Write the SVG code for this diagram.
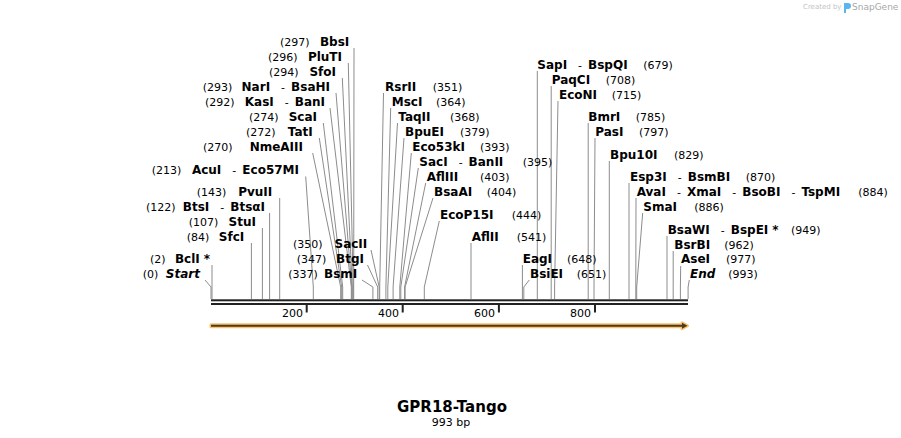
<svg xmlns="http://www.w3.org/2000/svg" width="901" height="438" viewBox="0 0 901 438">
<style>
text{font-family:"DejaVu Sans",Verdana,sans-serif;fill:#000}
.b{font-size:12px;font-weight:bold}
.n{font-size:11px;font-weight:normal}
.bi{font-size:12px;font-weight:bold;font-style:italic}
.e{text-anchor:end}
.ln{stroke:#8c8c8c;stroke-width:1;fill:none}
.bar{fill:#222}
.tk{font-size:11px;text-anchor:end}
</style>
<rect width="901" height="438" fill="#fff"/>
<g id="watermark">
<text x="803" y="9" style="font-size:7px;fill:#c4c4c4">Created by</text>
<path d="M844 3h4a3 3 0 0 1 0 6h-2v4h-2z" fill="#5cb6ee"/>
<text x="852" y="10" style="font-size:9px;fill:#a8a8a8">SnapGene</text>
</g>
<g id="connectors" class="ln">
<path d="M354 48L353.7 287V299"/>
<path d="M348.3 63L353.2 287V299"/>
<path d="M342.3 78L352.3 287V299"/>
<path d="M336 93L351.8 287V299"/>
<path d="M330 108L351.3 287V299"/>
<path d="M323.3 123L342.7 287V299"/>
<path d="M319.3 138L341.7 287V299"/>
<path d="M312.7 153L340.7 287V299"/>
<path d="M305.7 176.5L313.3 287V299"/>
<path d="M279.7 198V299"/>
<path d="M269.6 213V299"/>
<path d="M262.4 228V299"/>
<path d="M251.4 243V299"/>
<path d="M212 265V299"/>
<path d="M205 280L211 287V299"/>
<path d="M371 250L379.2 287V299"/>
<path d="M367.5 265L377.7 287V299"/>
<path d="M362 280L372.9 287V299"/>
<path d="M383.5 93L379.7 287V299"/>
<path d="M390.7 108L385.9 287V299"/>
<path d="M397.5 123L387.8 287V299"/>
<path d="M404 138L393.1 287V299"/>
<path d="M411.3 153L399.8 287V299"/>
<path d="M418.3 168L400.8 287V299"/>
<path d="M425.7 183L404.6 287V299"/>
<path d="M433 198L405.1 287V299"/>
<path d="M439.3 221L424.3 287V299"/>
<path d="M471 243V299"/>
<path d="M522.4 265V299"/>
<path d="M529.3 280L523.8 287V299"/>
<path d="M537.3 71V299"/>
<path d="M551.2 86V299"/>
<path d="M558 101L554.6 287V299"/>
<path d="M588.2 123V299"/>
<path d="M595 138L594 287V299"/>
<path d="M609.3 161V299"/>
<path d="M629 183V299"/>
<path d="M636 198L635.8 287V299"/>
<path d="M642.7 213L636.7 287V299"/>
<path d="M667 236V299"/>
<path d="M673.2 251V299"/>
<path d="M680.7 266L680.4 287V299"/>
<path d="M689.3 280L688.1 287V299"/>
</g>
<g id="sequence">
<rect class="bar" x="211" y="299.3" width="477" height="2"/>
<rect class="bar" x="211" y="303" width="477" height="2"/>
<rect class="bar" x="305.7" y="305" width="2" height="7.5"/>
<rect class="bar" x="401.7" y="305" width="2" height="7.5"/>
<rect class="bar" x="497.9" y="305" width="2" height="7.5"/>
<rect class="bar" x="594" y="305" width="2" height="7.5"/>
<text class="tk" x="303" y="317">200</text>
<text class="tk" x="399" y="317">400</text>
<text class="tk" x="495" y="317">600</text>
<text class="tk" x="591" y="317">800</text>
</g>
<g id="feature-arrow">
<path d="M211 324.8H682V322.8L687.5 325.8L682 328.8V326.8H211Z" fill="#4a3a20" stroke="#f9c272" stroke-width="3" stroke-linejoin="round" paint-order="stroke"/>
</g>
<g id="BbsI"><text class="n" x="280" y="46">(297)</text><text class="b e" x="349.3" y="46">BbsI</text></g>
<g id="PluTI"><text class="n" x="268" y="61">(296)</text><text class="b e" x="342" y="61">PluTI</text></g>
<g id="SfoI"><text class="n" x="269" y="76">(294)</text><text class="b e" x="336" y="76">SfoI</text></g>
<g id="NarI"><text class="n" x="202.7" y="91">(293)</text><text class="b e" x="330" y="91">NarI<tspan class="n" dx="11">-</tspan><tspan dx="6">BsaHI</tspan></text></g>
<g id="KasI"><text class="n" x="205" y="106">(292)</text><text class="b e" x="325" y="106">KasI<tspan class="n" dx="11">-</tspan><tspan dx="6">BanI</tspan></text></g>
<g id="ScaI"><text class="n" x="249" y="121">(274)</text><text class="b e" x="317" y="121">ScaI</text></g>
<g id="TatI"><text class="n" x="246" y="136">(272)</text><text class="b e" x="312.7" y="136">TatI</text></g>
<g id="NmeAIII"><text class="n" x="203" y="151">(270)</text><text class="b e" x="303" y="151">NmeAIII</text></g>
<g id="AcuI"><text class="n" x="151.7" y="174">(213)</text><text class="b e" x="299" y="174">AcuI<tspan class="n" dx="11">-</tspan><tspan dx="6">Eco57MI</tspan></text></g>
<g id="PvuII"><text class="n" x="196.7" y="196">(143)</text><text class="b e" x="272.3" y="196">PvuII</text></g>
<g id="BtsI"><text class="n" x="146" y="211">(122)</text><text class="b e" x="265" y="211">BtsI<tspan class="n" dx="11">-</tspan><tspan dx="6">BtsαI</tspan></text></g>
<g id="StuI"><text class="n" x="188.7" y="226">(107)</text><text class="b e" x="256" y="226">StuI</text></g>
<g id="SfcI"><text class="n" x="186.7" y="241">(84)</text><text class="b e" x="244.3" y="241">SfcI</text></g>
<g id="BclI"><text class="n" x="150" y="263">(2)</text><text class="b e" x="210" y="263">BclI<tspan dx="4">*</tspan></text></g>
<g id="Start"><text class="n" x="142.7" y="278">(0)</text><text class="bi e" x="200" y="278">Start</text></g>
<g id="SacII"><text class="n" x="293" y="248">(350)</text><text class="b e" x="367.3" y="248">SacII</text></g>
<g id="BtgI"><text class="n" x="296.7" y="263">(347)</text><text class="b e" x="364" y="263">BtgI</text></g>
<g id="BsmI"><text class="n" x="288.3" y="278">(337)</text><text class="b e" x="357.3" y="278">BsmI</text></g>
<g id="RsrII"><text class="b" x="385" y="91">RsrII</text><text class="n" x="432.7" y="91">(351)</text></g>
<g id="MscI"><text class="b" x="391.7" y="106">MscI</text><text class="n" x="436" y="106">(364)</text></g>
<g id="TaqII"><text class="b" x="398.3" y="121">TaqII</text><text class="n" x="450" y="121">(368)</text></g>
<g id="BpuEI"><text class="b" x="405" y="136">BpuEI</text><text class="n" x="460" y="136">(379)</text></g>
<g id="Eco53kI"><text class="b" x="412.3" y="151">Eco53kI</text><text class="n" x="480" y="151">(393)</text></g>
<g id="SacI"><text class="b" x="419.3" y="166">SacI<tspan class="n" dx="11">-</tspan><tspan dx="6">BanII</tspan></text><text class="n" x="522.7" y="166">(395)</text></g>
<g id="AflIII"><text class="b" x="426.7" y="181">AflIII</text><text class="n" x="480" y="181">(403)</text></g>
<g id="BsaAI"><text class="b" x="434" y="196">BsaAI</text><text class="n" x="486.7" y="196">(404)</text></g>
<g id="EcoP15I"><text class="b" x="440" y="219">EcoP15I</text><text class="n" x="511.7" y="219">(444)</text></g>
<g id="AflII"><text class="b" x="471.7" y="241">AflII</text><text class="n" x="516.7" y="241">(541)</text></g>
<g id="EagI"><text class="b" x="522.7" y="263">EagI</text><text class="n" x="567" y="263">(648)</text></g>
<g id="BsiEI"><text class="b" x="530" y="278">BsiEI</text><text class="n" x="576.7" y="278">(651)</text></g>
<g id="SapI"><text class="b" x="537.3" y="69">SapI<tspan class="n" dx="11">-</tspan><tspan dx="6">BspQI</tspan></text><text class="n" x="643.3" y="69">(679)</text></g>
<g id="PaqCI"><text class="b" x="551.7" y="84">PaqCI</text><text class="n" x="605.7" y="84">(708)</text></g>
<g id="EcoNI"><text class="b" x="559" y="99">EcoNI</text><text class="n" x="611.7" y="99">(715)</text></g>
<g id="BmrI"><text class="b" x="588.3" y="121">BmrI</text><text class="n" x="635.7" y="121">(785)</text></g>
<g id="PasI"><text class="b" x="595.3" y="136">PasI</text><text class="n" x="639" y="136">(797)</text></g>
<g id="Bpu10I"><text class="b" x="610" y="159">Bpu10I</text><text class="n" x="674" y="159">(829)</text></g>
<g id="Esp3I"><text class="b" x="630" y="181">Esp3I<tspan class="n" dx="11">-</tspan><tspan dx="6">BsmBI</tspan></text><text class="n" x="745.7" y="181">(870)</text></g>
<g id="AvaI"><text class="b" x="636.7" y="196">AvaI<tspan class="n" dx="11">-</tspan><tspan dx="6">XmaI</tspan><tspan class="n" dx="11">-</tspan><tspan dx="6">BsoBI</tspan><tspan class="n" dx="11">-</tspan><tspan dx="6">TspMI</tspan></text><text class="n" x="858.3" y="196">(884)</text></g>
<g id="SmaI"><text class="b" x="643.3" y="211">SmaI</text><text class="n" x="694.3" y="211">(886)</text></g>
<g id="BsaWI"><text class="b" x="667.7" y="234">BsaWI<tspan class="n" dx="11">-</tspan><tspan dx="6">BspEI</tspan><tspan dx="4">*</tspan></text><text class="n" x="791" y="234">(949)</text></g>
<g id="BsrBI"><text class="b" x="674.3" y="249">BsrBI</text><text class="n" x="724.3" y="249">(962)</text></g>
<g id="AseI"><text class="b" x="681" y="263">AseI</text><text class="n" x="726" y="263">(977)</text></g>
<g id="End"><text class="bi" x="690" y="278">End</text><text class="n" x="728.3" y="278">(993)</text></g>
<g id="title">
<text x="452" y="411.5" style="font-size:15px;font-weight:bold;text-anchor:middle">GPR18-Tango</text>
<text x="451" y="426" style="font-size:11px;text-anchor:middle">993 bp</text>
</g>
</svg>
